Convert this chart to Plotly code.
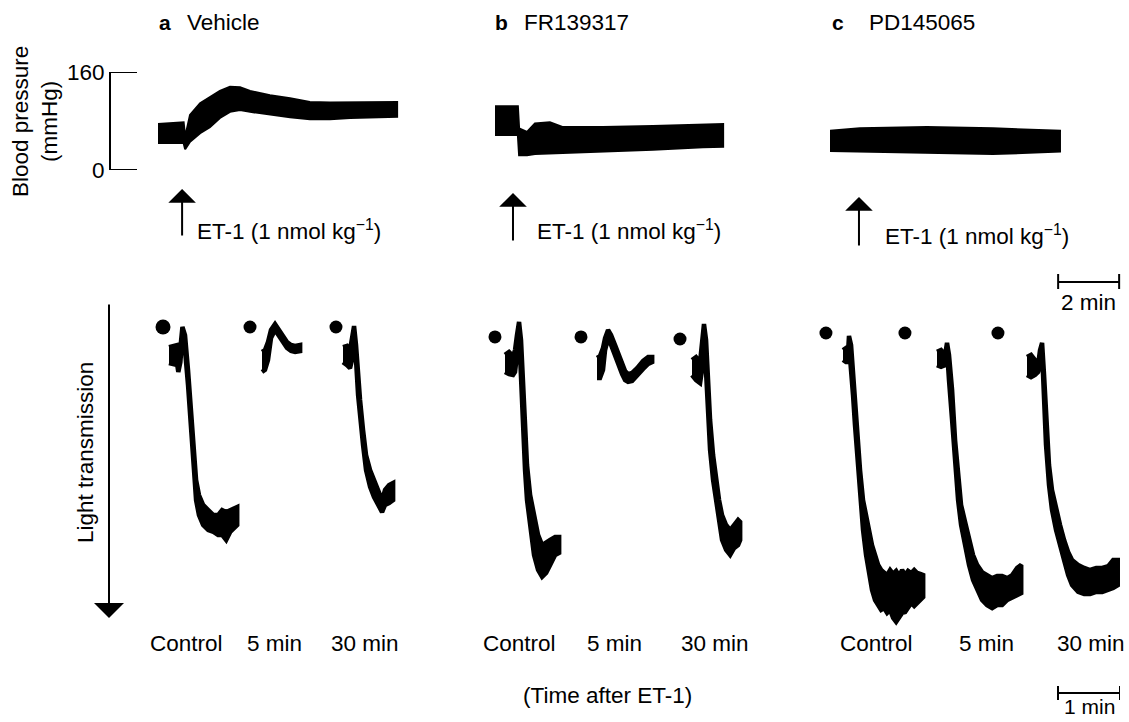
import plotly.graph_objects as go

W, H = 1129, 722

# ---------------- data ----------------
# Blood pressure envelope (systolic / diastolic, mmHg) vs time (min)
bp_a_t = [0, 0.5, 0.84, 0.89, 1.05, 1.38, 1.7, 2.03, 2.36, 2.69, 3.02, 3.67, 4.33, 4.98, 5.64, 6.3, 6.95, 7.84]
bp_a_sys = [75, 77, 78, 54, 90, 109, 119, 129, 136, 135, 129, 122, 117, 111, 110, 110, 111, 111]
bp_a_dia = [44, 44, 44, 34, 46, 60, 70, 85, 95, 98, 95, 90, 86, 83, 83, 85, 86, 87]

bp_b_t = [0, 0.75, 0.79, 1.05, 1.31, 1.8, 2.23, 3.54, 5.18, 6.82, 7.48]
bp_b_sys = [104, 104, 68, 62, 76, 78, 70, 70, 72, 74, 75]
bp_b_dia = [57, 57, 24, 24, 26, 27, 28, 30, 33, 37, 38]

bp_c_t = [0, 0.98, 3.18, 5.34, 7.54]
bp_c_sys = [64, 68, 70, 68, 64]
bp_c_dia = [31, 30, 28, 26, 30]

et1_time = [0.79, 0.59, 0.95]  # min, ET-1 injection in each BP record

# Platelet aggregation (light transmission, %) vs time (s): upper / lower envelope
ag_a0_t = [0, 4, 8, 9, 11, 13, 15.5, 18.4, 20.4, 22.3, 24.2, 26.2, 29, 33, 38, 43, 47.5, 51.4, 55.3, 59.2, 63, 66]
ag_a0_hi = [5.7, 5.3, 5, 6.7, 6, -1, 1.7, 13.3, 21.7, 31.7, 41.7, 50, 55, 58.3, 60, 61.7, 61.7, 60, 60.7, 60, 59.3, 59]
ag_a0_lo = [11, 11.3, 11.7, 14, 10.7, 1.7, 6.7, 18.3, 26.7, 36.7, 46.7, 56.7, 61.7, 65, 66.7, 67.3, 68.3, 68.3, 70, 67.3, 66, 65]

ag_a5_t = [0, 2.9, 5.8, 8.7, 12.6, 16.5, 20.4, 24.2, 28.1, 32, 36.9]
ag_a5_hi = [7.3, 6.7, 4, 0, -2, 0, 2.3, 4, 5, 5.3, 5]
ag_a5_lo = [14, 13.3, 10, 2.7, 0, 2, 4.3, 6, 7, 7.3, 7]

ag_a30_t = [0, 3.9, 6.8, 8.7, 10.7, 12.6, 14.6, 16.5, 19.4, 22.3, 26.2, 30, 34, 37.8, 40.7, 44.6, 48.5]
ag_a30_hi = [5.7, 5.3, 6.7, 3.3, -1.3, 5, 16.7, 23.3, 33.3, 41.7, 46.7, 50, 53.3, 56.7, 53.3, 51.7, 51]
ag_a30_lo = [10.7, 11.7, 12.7, 10, 1.3, 10, 21.7, 28.3, 38.3, 46.7, 52.3, 55.7, 58.3, 60.7, 58.3, 57.7, 56.7]

ag_b0_t = [0, 3.9, 7.8, 9.7, 11.6, 13.6, 15.5, 17.5, 19.4, 21.3, 24.3, 28.1, 32, 35.9, 39.8, 43.7, 48.5, 52.4]
ag_b0_hi = [8.3, 7.3, 8.7, 6.7, 1.7, -2.7, 3.3, 16.7, 33.3, 45, 55, 61.7, 68.3, 71.7, 71, 70, 69, 69]
ag_b0_lo = [14, 14.7, 15, 14, 8.3, 0.7, 16.7, 33.3, 46.7, 56.7, 65, 75, 80, 82.3, 81, 78.3, 75, 74.3]

ag_b5_t = [0, 2.9, 5.8, 7.8, 10.7, 13.6, 17.5, 21.3, 24.3, 27.2, 30.1, 34, 38.8, 44.6, 49.5, 53.4]
ag_b5_hi = [9.3, 8.7, 6, 2.7, 0, 1.7, 5, 8.7, 11.7, 13.7, 14.7, 14.3, 12.7, 10.3, 9, 9]
ag_b5_lo = [16, 16, 13.3, 6.7, 2.7, 5, 8.3, 11.7, 14.7, 16.7, 17.3, 17, 15.3, 13, 11.3, 10.7]

ag_b30_t = [0, 3.9, 7.8, 9.7, 11.6, 13.6, 15.5, 17.5, 20.4, 23.3, 26.2, 29.1, 33, 36.9, 40.7, 44.6, 46.6]
ag_b30_hi = [10, 9, 10.7, 5, -2, 3.3, 16.7, 30, 41.7, 50, 56.7, 61.7, 65, 66.7, 65, 63.3, 64]
ag_b30_lo = [15, 16.7, 17.7, 13.3, 0.7, 15, 28.3, 40, 50, 56.7, 63.3, 70, 73.3, 75, 72.7, 71.7, 70]

ag_c0_t = [0, 2.9, 4.9, 5.8, 7.8, 9.7, 11.6, 13.6, 16.5, 19.4, 22.3, 25.2, 28.1, 31, 34, 36.9, 39.8, 42.7, 45.6, 48.5,
           51.4, 54.3, 57.2, 60.1, 63, 66, 68.9, 71.8, 74.7, 77.6]
ag_c0_hi = [6.7, 6, 7.3, 2, 5, 15, 23.3, 33.3, 46.7, 56.7, 62.7, 66.7, 71.7, 75, 78.3, 80, 80.7, 81.7, 80, 81.3,
            80.3, 82, 80, 81.7, 80.3, 81, 80, 81, 81.3, 81.7]
ag_c0_lo = [10, 10.7, 10.7, 5, 13.3, 21.7, 31.7, 41.7, 55, 66.7, 75, 81.7, 86.7, 90, 91.7, 93.3, 92.7, 94.3, 93.3, 96,
            97.3, 96, 94.3, 94, 92.7, 91, 92, 91, 90, 89]

ag_c5_t = [0, 3.9, 7.8, 9.7, 11.6, 14.6, 17.5, 20.4, 23.3, 27.2, 31, 34.9, 38.8, 43.6, 48.5, 53.4, 58.2, 63, 68, 72.8, 77.6, 81.5]
ag_c5_hi = [7.3, 6.7, 8.3, 4.3, 8.3, 20, 36.7, 50, 58.3, 64, 70, 75, 78.3, 80.7, 81.7, 82.7, 82, 82, 82.7, 81.7, 79.3, 78.3]
ag_c5_lo = [11.7, 12.3, 11.7, 6.7, 16.7, 30, 45, 56.7, 65, 71.7, 78.3, 83.3, 86.7, 90, 91.7, 92.7, 91.7, 91.7, 90, 89.3, 88.3, 87.7]

ag_c30_t = [0, 3.9, 7.8, 10.7, 12.6, 14.6, 16.5, 18.4, 21.3, 24.2, 28.1, 32, 35.9, 39.8, 43.6, 49.5, 55.3, 61.1, 67, 72.8, 78.6, 83.4, 88.3]
ag_c30_hi = [9, 8.3, 10, 11.7, 6.7, 4.3, 15, 30, 45, 53.3, 60, 65, 70, 74, 76.7, 78.3, 79.3, 80, 79.3, 79.3, 78.7, 76.7, 76.7]
ag_c30_lo = [15, 15.7, 15, 14, 11.7, 7.3, 21.7, 38.3, 51.7, 60, 66.7, 71.7, 76.7, 81.7, 85, 87.3, 88, 88, 87.3, 87.3, 86.7, 86, 85]

# stimulus marks (dots): time (s) relative to each record and level (%)
dot_t = [-5.8, -11.6, -6.8, -9.7, -15.5, -11.6, -16.5, -31, -28.1]
dot_v = [-1, -1, -1, 2.3, 2.3, 3, 1, 1, 1]

panel_letters = ["a", "b", "c"]
panel_names = ["Vehicle", "FR139317", "PD145065"]
time_labels = ["Control", "5 min", "30 min"]
bp_ticks = [0, 160]

# ---------------- layout geometry ----------------
def px_x(x):
    return x / W

def px_y(y):
    return 1 - y / H

BP_X0 = [158, 495, 830]
BP_PX_PER_MIN = 30.5
BP_RANGE = [0, 9.6]
AG_X0 = [169, 262, 343, 505, 597, 692, 843, 937, 1027]
AG_PX_PER_S = 62 / 60
AG_RANGE = [-35, 90]

FONT = "Liberation Sans, Arial, Helvetica, sans-serif"
FS = 22.5

fig = go.Figure()

bp_sets = [(bp_a_t, bp_a_sys, bp_a_dia), (bp_b_t, bp_b_sys, bp_b_dia), (bp_c_t, bp_c_sys, bp_c_dia)]
for i, (t, s, d) in enumerate(bp_sets):
    xa = "x" if i == 0 else f"x{i + 1}"
    fig.add_trace(go.Scatter(
        x=t + t[::-1], y=s + d[::-1], mode="lines", fill="toself",
        fillcolor="black", line=dict(color="black", width=2),
        xaxis=xa, yaxis="y", hoverinfo="skip", cliponaxis=False))

ag_sets = [
    (ag_a0_t, ag_a0_hi, ag_a0_lo), (ag_a5_t, ag_a5_hi, ag_a5_lo), (ag_a30_t, ag_a30_hi, ag_a30_lo),
    (ag_b0_t, ag_b0_hi, ag_b0_lo), (ag_b5_t, ag_b5_hi, ag_b5_lo), (ag_b30_t, ag_b30_hi, ag_b30_lo),
    (ag_c0_t, ag_c0_hi, ag_c0_lo), (ag_c5_t, ag_c5_hi, ag_c5_lo), (ag_c30_t, ag_c30_hi, ag_c30_lo),
]
for j, (t, hi, lo) in enumerate(ag_sets):
    xa = f"x{4 + j}"
    fig.add_trace(go.Scatter(
        x=t + t[::-1], y=hi + lo[::-1], mode="lines", fill="toself",
        fillcolor="black", line=dict(color="black", width=4.5, shape="linear"),
        xaxis=xa, yaxis="y2", hoverinfo="skip", cliponaxis=False))
    fig.add_trace(go.Scatter(
        x=[dot_t[j]], y=[dot_v[j]], mode="markers",
        marker=dict(color="black", size=15 if j == 0 else 13),
        xaxis=xa, yaxis="y2", hoverinfo="skip", cliponaxis=False))

layout = dict(
    width=W, height=H,
    margin=dict(l=0, r=0, t=0, b=0, pad=0, autoexpand=False),
    paper_bgcolor="white", plot_bgcolor="rgba(0,0,0,0)", showlegend=False,
    font=dict(family=FONT, color="black", size=FS),
)
for i in range(3):
    key = "xaxis" if i == 0 else f"xaxis{i + 1}"
    layout[key] = dict(
        domain=[px_x(BP_X0[i]), px_x(BP_X0[i] + BP_RANGE[1] * BP_PX_PER_MIN)],
        range=BP_RANGE, visible=False, anchor="y")
layout["yaxis"] = dict(
    domain=[px_y(170), px_y(72)], range=[0, 160], anchor="free", position=px_x(110),
    showline=True, linecolor="black", linewidth=2, ticks="", automargin=False,
    tickvals=bp_ticks, ticktext=[str(v) for v in bp_ticks],
    tickfont=dict(size=FS, family=FONT, color="black"), showgrid=False, zeroline=False)
layout["yaxis2"] = dict(domain=[px_y(630), px_y(300)], range=[100, -10], visible=False, anchor="x4")
for j in range(9):
    x0 = AG_X0[j]
    layout[f"xaxis{4 + j}"] = dict(
        domain=[px_x(x0 + AG_RANGE[0] * AG_PX_PER_S), px_x(x0 + AG_RANGE[1] * AG_PX_PER_S)],
        range=AG_RANGE, visible=False, anchor="y2")
fig.update_layout(**layout)

shapes = []
# BP scale-bar ticks (pointing right from the axis line) at 0 and 160 mmHg
for v in bp_ticks:
    shapes.append(dict(type="line", xref="paper", yref="y", x0=px_x(109), x1=px_x(137),
                       y0=v, y1=v, line=dict(color="black", width=2)))

ann = []
# panel titles
title_letter_x = [157, 493, 830]
title_name_x = [185, 522, 867]
for i in range(3):
    ann.append(dict(x=px_x(title_letter_x[i]), y=px_y(22), xref="paper", yref="paper",
                    text=f"<b>{panel_letters[i]}</b>", showarrow=False, xanchor="left",
                    yanchor="middle", font=dict(size=21)))
    ann.append(dict(x=px_x(title_name_x[i]), y=px_y(22), xref="paper", yref="paper",
                    text=panel_names[i], showarrow=False, xanchor="left",
                    yanchor="middle", font=dict(size=FS)))

# ET-1 arrows and labels
arrow_tip = [189, 193, 197]
arrow_tail = [237, 242, 247]
et_text_x = [195, 535, 883]
et_text_y = [230, 230, 235]
for i in range(3):
    xa = "x" if i == 0 else f"x{i + 1}"
    ann.append(dict(x=et1_time[i], y=px_y(arrow_tip[i]), xref=xa, yref="paper", text="",
                    showarrow=True, arrowhead=1, arrowsize=2.3, arrowwidth=2, arrowcolor="black",
                    ax=0, ay=arrow_tail[i] - arrow_tip[i], standoff=0))
    ann.append(dict(x=px_x(et_text_x[i]), y=px_y(et_text_y[i]), xref="paper", yref="paper",
                    text="ET-1 (1 nmol kg<sup>\u22121</sup>)", showarrow=False,
                    xanchor="left", yanchor="middle", font=dict(size=FS)))

# BP axis title
ann.append(dict(x=px_x(35), y=px_y(122), xref="paper", yref="paper",
                text="Blood pressure<br>(mmHg)", showarrow=False, textangle=-90,
                xanchor="center", yanchor="middle", font=dict(size=FS)))

# Light transmission arrow & title
ann.append(dict(x=px_x(109), y=px_y(618), xref="paper", yref="paper", text="",
                showarrow=True, arrowhead=1, arrowsize=2.5, arrowwidth=2, arrowcolor="black",
                ax=0, ay=-(618 - 303), standoff=0))
ann.append(dict(x=px_x(85), y=px_y(453), xref="paper", yref="paper",
                text="Light transmission", showarrow=False, textangle=-90,
                xanchor="center", yanchor="middle", font=dict(size=FS)))

# time labels under each aggregation trace
label_x = [186, 274, 365, 519, 614, 715, 876, 986, 1091]
for j in range(9):
    ann.append(dict(x=px_x(label_x[j]), y=px_y(643), xref="paper", yref="paper",
                    text=time_labels[j % 3], showarrow=False, xanchor="center",
                    yanchor="middle", font=dict(size=FS)))
ann.append(dict(x=px_x(607), y=px_y(695), xref="paper", yref="paper",
                text="(Time after ET-1)", showarrow=False, xanchor="center",
                yanchor="middle", font=dict(size=FS)))

# scale bars
bp_bar = [7.48, 9.48]  # 2 min on panel c BP time axis
bar_y = 282
shapes.append(dict(type="line", xref="x3", yref="paper", x0=bp_bar[0], x1=bp_bar[1],
                   y0=px_y(bar_y), y1=px_y(bar_y), line=dict(color="black", width=2)))
for xb in bp_bar:
    shapes.append(dict(type="line", xref="x3", yref="paper", x0=xb, x1=xb,
                       y0=px_y(bar_y - 8), y1=px_y(bar_y + 7), line=dict(color="black", width=2)))
ann.append(dict(x=sum(bp_bar) / 2, y=px_y(302), xref="x3", yref="paper", text="2 min",
                showarrow=False, xanchor="center", yanchor="middle", font=dict(size=FS)))

ag_bar = [30, 90]  # 60 s on the last aggregation time axis
bar2_y = 693
shapes.append(dict(type="line", xref="x12", yref="paper", x0=ag_bar[0], x1=ag_bar[1],
                   y0=px_y(bar2_y), y1=px_y(bar2_y), line=dict(color="black", width=2)))
for xb in ag_bar:
    shapes.append(dict(type="line", xref="x12", yref="paper", x0=xb, x1=xb,
                       y0=px_y(bar2_y - 7), y1=px_y(bar2_y + 7), line=dict(color="black", width=2)))
ann.append(dict(x=sum(ag_bar) / 2, y=px_y(720), xref="x12", yref="paper", text="1 min",
                showarrow=False, xanchor="center", yanchor="bottom", font=dict(size=21)))

fig.update_layout(annotations=ann, shapes=shapes)
fig.write_html("out.html")
